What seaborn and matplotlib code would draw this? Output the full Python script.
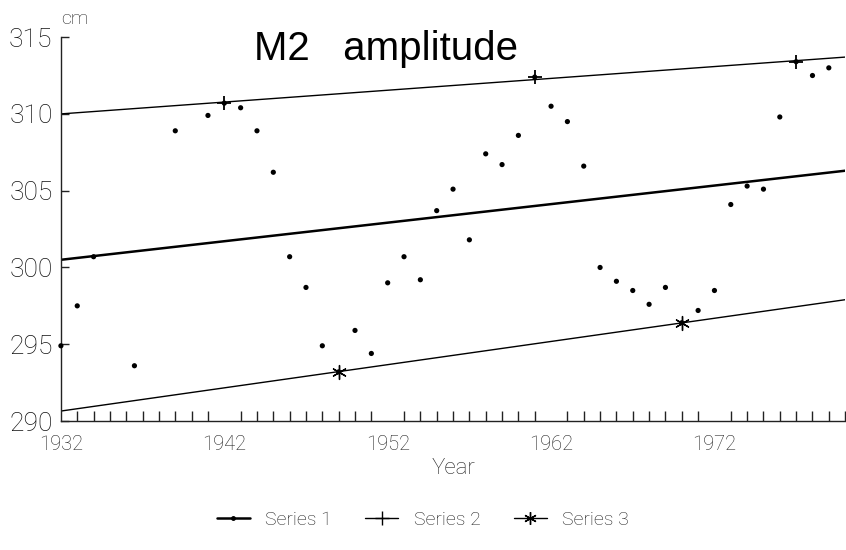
import numpy as np
import pandas as pd
import matplotlib
matplotlib.use("Agg")
import matplotlib.pyplot as plt
from matplotlib.lines import Line2D
from matplotlib.ticker import MultipleLocator
import seaborn as sns

# valores (amplitude M2, cm)
years = [1932, 1933, 1934, 1936.5, 1939, 1941, 1942, 1943, 1944, 1945, 1946,
         1947, 1948, 1949, 1950, 1951, 1952, 1953, 1954, 1955, 1956, 1957,
         1958, 1959, 1960, 1961, 1962, 1963, 1964, 1965, 1966, 1967, 1968,
         1969, 1970, 1971, 1972, 1973, 1974, 1975, 1976, 1977, 1978, 1979]
amplitude = [294.9, 297.5, 300.7, 293.6, 308.9, 309.9, 310.7, 310.4, 308.9, 306.2, 300.7,
             298.7, 294.9, 293.2, 295.9, 294.4, 299.0, 300.7, 299.2, 303.7, 305.1, 301.8,
             307.4, 306.7, 308.6, 312.4, 310.5, 309.5, 306.6, 300.0, 299.1, 298.5, 297.6,
             298.7, 296.4, 297.2, 298.5, 304.1, 305.3, 305.1, 309.8, 313.4, 312.5, 313.0]

# retas (tendencia, envoltoria superior e inferior)
line_years = [1932, 1980]
trend = [300.5, 306.3]
upper = [310.0, 313.7]
lower = [290.65, 297.9]

# pontos marcados nas envoltorias
max_years = [1942, 1961, 1977]
max_vals = [310.7, 312.4, 313.4]
min_years = [1949, 1970]
min_vals = [293.2, 296.4]

sns.set_style("white")
plt.rcParams['font.family'] = ['Roboto', 'DejaVu Sans']

fig = plt.figure(figsize=(8.46, 5.5), dpi=100)
ax = fig.add_axes([0.072, 0.2345, 0.927, 0.698])

df = pd.DataFrame({"Year": years, "cm": amplitude})
sns.scatterplot(data=df, x="Year", y="cm", ax=ax, color="black", s=14,
                edgecolor="none", legend=False, zorder=3, clip_on=False)

sns.lineplot(x=line_years, y=trend, ax=ax, color="black", linewidth=1.8)
sns.lineplot(x=line_years, y=upper, ax=ax, color="black", linewidth=1.0)
sns.lineplot(x=line_years, y=lower, ax=ax, color="black", linewidth=1.0)

sns.scatterplot(x=max_years, y=max_vals, ax=ax, marker="+", s=110,
                color="black", linewidth=1.3, zorder=4)
sns.scatterplot(x=min_years, y=min_vals, ax=ax, marker=(6, 2, 0), s=100,
                color="black", linewidth=1.0, zorder=4)

ax.set_xlim(1932, 1980)
ax.set_ylim(290, 315)
ax.set_xticks([1932, 1942, 1952, 1962, 1972])
ax.xaxis.set_minor_locator(MultipleLocator(1))
ax.set_yticks([290, 295, 300, 305, 310, 315])

for side in ["top", "right"]:
    ax.spines[side].set_visible(False)
for side in ["left", "bottom"]:
    ax.spines[side].set_color("#222222")
    ax.spines[side].set_linewidth(1.0)

ax.tick_params(axis="x", which="major", direction="inout", length=16, width=1,
               color="#222222", labelsize=14.5, labelcolor="#222222", pad=2)
ax.tick_params(axis="x", which="minor", direction="in", length=7, width=1,
               color="#222222", bottom=True)
ax.tick_params(axis="y", which="major", direction="in", length=6, width=1,
               color="#222222", labelsize=19, labelcolor="#111111", pad=6, left=True)
for lab in ax.get_xticklabels() + ax.get_yticklabels():
    lab.set_fontweight("light")

ax.set_xlabel("Year", fontsize=16, fontweight="light", color="#222222", labelpad=3)
ax.set_ylabel("")
ax.text(0.0, 1.025, "cm", transform=ax.transAxes, fontsize=14, fontweight="light",
        color="#222222", ha="left", va="bottom")

ax.text(1943.8, 314.2, "M2   amplitude", fontsize=29, color="black",
        family=["Liberation Sans", "DejaVu Sans"], ha="left", va="center")

handles = [
    Line2D([], [], color="black", linewidth=1.8, marker="o", markersize=2.5),
    Line2D([], [], color="black", linewidth=1.0, marker="+", markersize=10),
    Line2D([], [], color="black", linewidth=1.0, marker=(6, 2, 0), markersize=9),
]
leg = fig.legend(handles, ["Series 1", "Series 2", "Series 3"], loc="center",
                 bbox_to_anchor=(0.5, 0.054), ncol=3, frameon=False,
                 fontsize=14, handlelength=1.7, columnspacing=1.7)
for t in leg.get_texts():
    t.set_fontweight("light")
    t.set_color("#222222")

plt.savefig("out.png", dpi=100)
